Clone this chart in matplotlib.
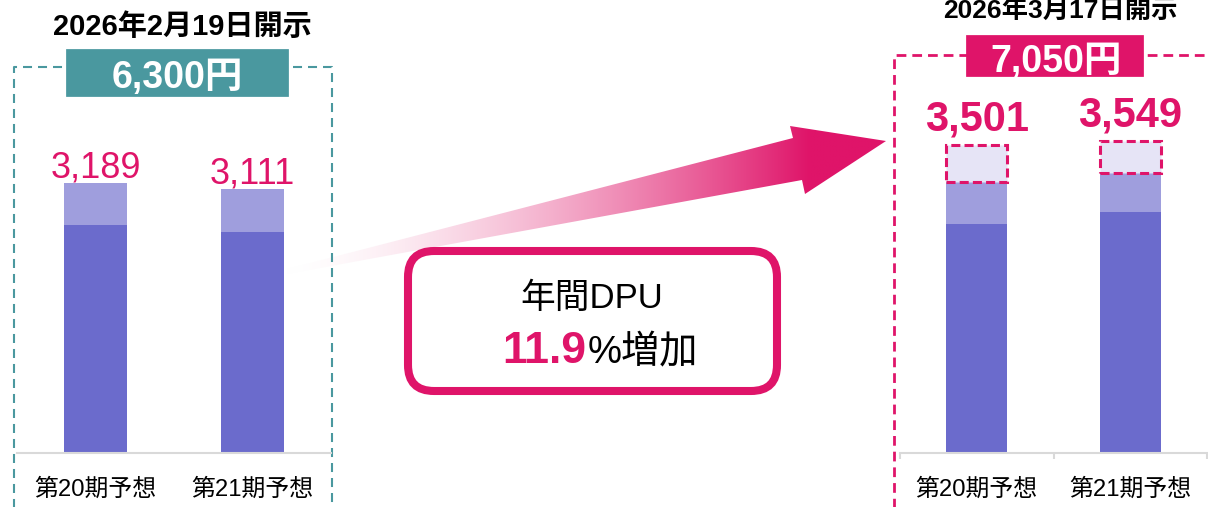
import numpy as np
import matplotlib
matplotlib.use('Agg')
import matplotlib.pyplot as plt
from matplotlib.patches import Rectangle, FancyBboxPatch, Polygon
from matplotlib.colors import to_rgba

plt.rcParams['font.family'] = ['Liberation Sans', 'Noto Sans CJK JP']
plt.rcParams['lines.scale_dashes'] = False

# data
cats = ['第20期予想', '第21期予想']
old_base = [2690, 2608]
old_extra = [499, 503]
old_total = [3189, 3111]
new_base = [2604, 2740]
new_extra = [477, 444]
new_up = [420, 365]
new_total = [3501, 3549]
old_title = '2026年2月19日開示'
new_title = '2026年3月17日開示'
old_sum = '6,300円'
new_sum = '7,050円'
growth = '11.9'

DARK = '#6B6BCC'
LIGHT = '#9F9EDD'
PALE = '#E6E4F6'
PINK = '#DF1469'
TEAL = '#4A989F'
GRID = '#D9D9D9'

W, H = 1208, 507
fig = plt.figure(figsize=(W / 100, H / 100), dpi=100)

# background layer in pixel coordinates
bg = fig.add_axes([0, 0, 1, 1])
bg.axis('off')


def px_axes(x0, x1, ybot, ytop):
    return fig.add_axes([x0 / W, (H - ybot) / H, (x1 - x0) / W, (ybot - ytop) / H])


# gradient arrow
pts = [(287, 269), (793, 138), (790, 126), (886, 141), (805, 194), (802, 180), (287, 274)]
xs = np.linspace(285, 890, 400)
t = np.clip((xs - 285) / 525, 0, 1) ** 1.6
white = np.array(to_rgba('white'))
pink = np.array(to_rgba(PINK))
grad = (white[None, :] * (1 - t[:, None]) + pink[None, :] * t[:, None])[None, :, :]
grad = np.repeat(grad, 2, axis=0)
im = bg.imshow(grad, extent=(285, 890, 280, 120), aspect='auto', interpolation='bilinear')
arrow = Polygon(pts, closed=True, facecolor='none', edgecolor='none')
bg.add_patch(arrow)
im.set_clip_path(arrow)
bg.set_xlim(0, W)
bg.set_ylim(H, 0)

# dashed frames
bg.plot([14, 14, 332, 332], [510, 67, 67, 510], color=TEAL, lw=1.5,
        linestyle=(0, (6.5, 4.3)))
bg.plot([894, 894, 1212], [510, 55, 55], color=PINK, lw=2,
        linestyle=(0, (7, 4.3)))

# headline boxes
bg.add_patch(Rectangle((63, 46), 229, 54, facecolor=TEAL, edgecolor='white', lw=4.5))
bg.add_patch(Rectangle((963, 32), 184, 48, facecolor=PINK, edgecolor='white', lw=4.5))
bg.text(177, 88, old_sum, color='white', fontsize=27, fontweight='bold',
        ha='center', va='baseline')
bg.text(1056, 72, new_sum, color='white', fontsize=27, fontweight='bold',
        ha='center', va='baseline')
bg.text(182, 35, old_title, fontsize=21, fontweight='bold', ha='center', va='baseline')
bg.text(1060, 18, new_title, fontsize=19, fontweight='bold', ha='center', va='baseline')

# growth box
bg.add_patch(FancyBboxPatch((408, 251), 369, 140, boxstyle='round,pad=0,rounding_size=26',
                            facecolor='white', edgecolor=PINK, lw=5.8))
bg.text(592, 308, '年間DPU', fontsize=25, ha='center', va='baseline')
bg.text(586, 363, growth, fontsize=32, fontweight='bold', color=PINK,
        ha='right', va='baseline')
bg.text(588, 363, '%増加', fontsize=27.5, ha='left', va='baseline')

# bar panels
x = np.arange(len(cats))
ax1 = px_axes(17, 331, 453, 100)
ax2 = px_axes(900, 1207, 453, 100)
for ax in (ax1, ax2):
    ax.patch.set_visible(False)
    for s in ('top', 'right', 'left'):
        ax.spines[s].set_visible(False)
    ax.spines['bottom'].set_color(GRID)
    ax.spines['bottom'].set_linewidth(1.5)
    ax.set_yticks([])
    ax.set_xlim(-0.5, 1.5)
    ax.set_xticks(x, cats, fontsize=17.2)
    ax.tick_params(axis='x', length=0, pad=18)

ax1.set_ylim(0, 4165)
ax1.bar(x, old_base, width=0.4, color=DARK)
ax1.bar(x, old_extra, bottom=old_base, width=0.4, color=LIGHT)
for i, v in enumerate(old_total):
    ax1.annotate(f'{v:,}', (x[i], v), xytext=(0, 4), textcoords='offset points',
                 ha='center', va='baseline', fontsize=26, color=PINK)

ax2.set_ylim(0, 4014)
mid = [a + b for a, b in zip(new_base, new_extra)]
ax2.bar(x, new_base, width=0.4, color=DARK)
ax2.bar(x, new_extra, bottom=new_base, width=0.4, color=LIGHT)
ax2.bar(x, new_up, bottom=mid, width=0.4, color=PALE, edgecolor=PINK, lw=2.2,
        linestyle=(0, (6.5, 3)))
ax2.set_xticks([-0.5, 0.5, 1.5], minor=True)
ax2.tick_params(axis='x', which='minor', length=4.3, width=1.5, color=GRID)
for i, v in enumerate(new_total):
    ax2.annotate(f'{v:,}', (x[i], v), xytext=(0, 10.5), textcoords='offset points',
                 ha='center', va='baseline', fontsize=30, fontweight='bold', color=PINK)

fig.savefig('out.png', dpi=100)
